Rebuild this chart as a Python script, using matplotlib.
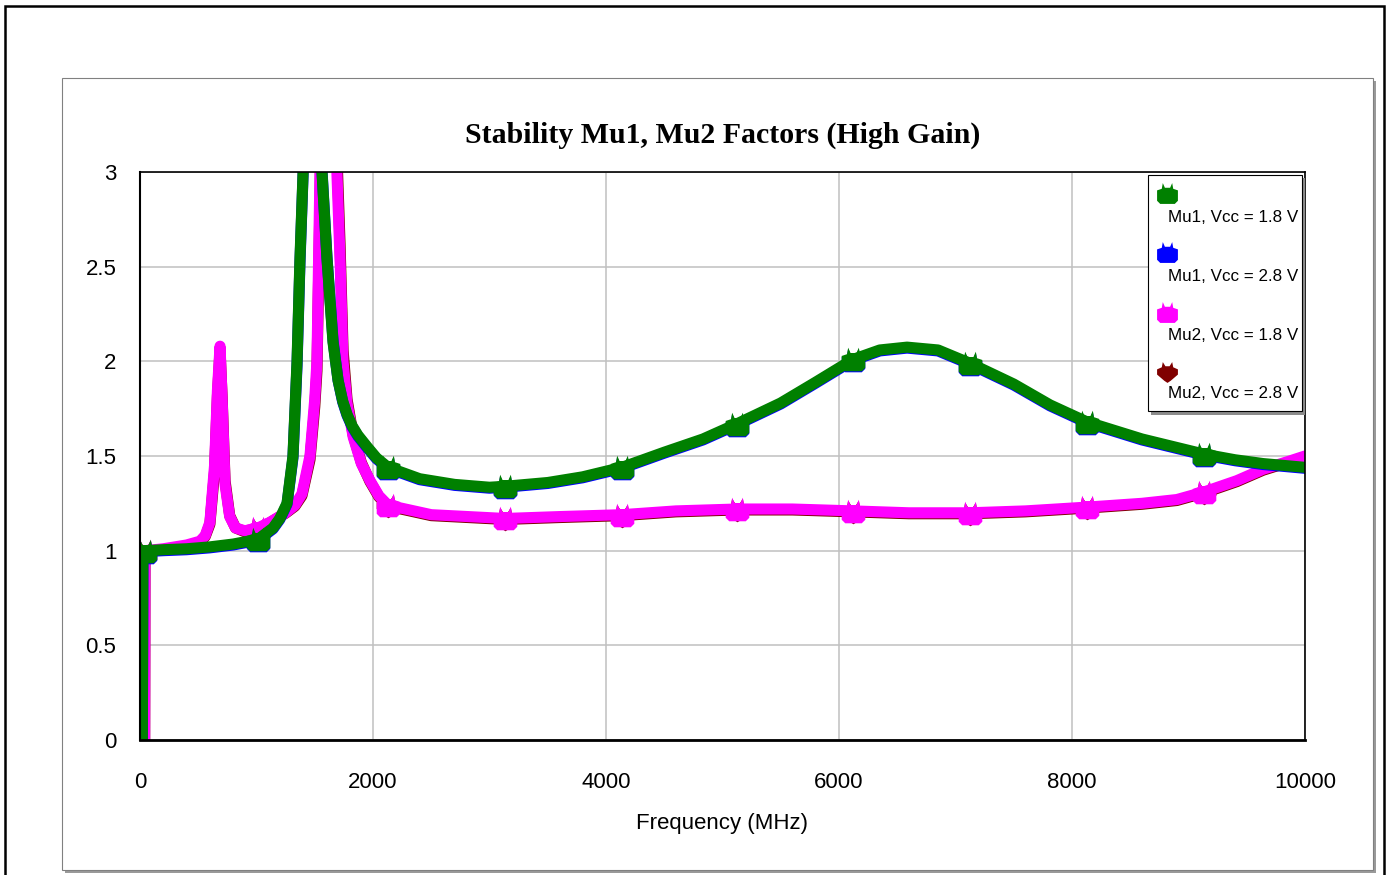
import matplotlib
matplotlib.use('Agg')
import matplotlib.pyplot as plt
from matplotlib import font_manager
from matplotlib.path import Path
from matplotlib.patches import Rectangle
from matplotlib.lines import Line2D

# ---------------- data ----------------
title = "Stability Mu1, Mu2 Factors (High Gain)"
xlabel = "Frequency (MHz)"
series_labels = ["Mu1, Vcc = 1.8 V", "Mu1, Vcc = 2.8 V", "Mu2, Vcc = 1.8 V", "Mu2, Vcc = 2.8 V"]
x_ticks = [0, 2000, 4000, 6000, 8000, 10000]
y_ticks = [0, 0.5, 1, 1.5, 2, 2.5, 3]
y_tick_labels = ["0", "0.5", "1", "1.5", "2", "2.5", "3"]

freq_mu1 = [20, 25, 43, 200, 400, 600, 800, 1013, 1142, 1200, 1262, 1313, 1348, 1373, 1400,
            1440, 1480, 1520, 1562, 1605, 1657, 1700, 1740, 1777, 1820, 1870, 1948, 2030, 2129,
            2400, 2700, 3000, 3133, 3500, 3800, 4137, 4500, 4833, 5124, 5500, 5800, 6120, 6350,
            6584, 6850, 7124, 7500, 7811, 8129, 8600, 9133, 9400, 9640, 10000]
mu1_18 = [0.0, 1.0, 1.00, 1.005, 1.01, 1.02, 1.035, 1.06, 1.12, 1.17, 1.25, 1.5, 2.0, 2.54, 3.0,
          4.5, 6.0, 4.5, 3.0, 2.54, 2.1, 1.9, 1.79, 1.72, 1.66, 1.61, 1.55, 1.49, 1.44,
          1.38, 1.35, 1.335, 1.34, 1.36, 1.39, 1.44, 1.52, 1.59, 1.67, 1.78, 1.89, 2.01, 2.06,
          2.075, 2.06, 1.99, 1.88, 1.77, 1.68, 1.59, 1.51, 1.48, 1.46, 1.44]
mu1_28 = [0.0, 1.0, 0.995, 1.0, 1.005, 1.015, 1.03, 1.055, 1.115, 1.165, 1.245, 1.49, 1.98, 2.52, 2.99,
          4.4, 5.9, 4.5, 3.01, 2.55, 2.11, 1.9, 1.785, 1.715, 1.655, 1.605, 1.545, 1.485, 1.435,
          1.375, 1.345, 1.33, 1.335, 1.355, 1.385, 1.435, 1.515, 1.585, 1.665, 1.775, 1.885, 2.005, 2.055,
          2.07, 2.055, 1.985, 1.875, 1.765, 1.675, 1.585, 1.505, 1.475, 1.455, 1.435]

freq_mu2 = [40, 43, 200, 400, 515, 560, 600, 640, 665, 687, 705, 730, 770, 820, 900, 1013,
            1116, 1250, 1330, 1390, 1459, 1500, 1519, 1545, 1580, 1610, 1650, 1690, 1717, 1743,
            1777, 1830, 1900, 1974, 2050, 2129, 2500, 3133, 3600, 4137, 4600, 5124, 5600, 6120,
            6600, 7124, 7600, 8129, 8600, 8900, 9133, 9416, 9640, 9850, 10000]
mu2_18 = [0.0, 1.0, 1.01, 1.03, 1.05, 1.08, 1.15, 1.45, 1.85, 2.08, 1.80, 1.35, 1.18, 1.12, 1.105, 1.12,
          1.15, 1.2, 1.24, 1.3, 1.5, 1.8, 2.0, 3.0, 4.5, 6.0, 4.5, 3.0, 2.54, 2.0,
          1.78, 1.6, 1.46, 1.37, 1.29, 1.24, 1.19, 1.17, 1.18, 1.19, 1.21, 1.22, 1.22, 1.21,
          1.20, 1.20, 1.21, 1.23, 1.25, 1.27, 1.31, 1.37, 1.43, 1.47, 1.50]
mu2_28 = [0.0, 0.995, 1.005, 1.025, 1.045, 1.075, 1.14, 1.42, 1.82, 2.06, 1.81, 1.37, 1.185, 1.12, 1.10, 1.115,
          1.148, 1.198, 1.235, 1.29, 1.48, 1.76, 1.95, 2.85, 4.3, 6.0, 4.7, 3.1, 2.62, 2.06,
          1.80, 1.61, 1.465, 1.365, 1.285, 1.235, 1.185, 1.165, 1.175, 1.185, 1.205, 1.215, 1.215, 1.205,
          1.195, 1.195, 1.205, 1.225, 1.245, 1.265, 1.305, 1.365, 1.425, 1.465, 1.495]

marker_freqs = [43, 1013, 2129, 3133, 4137, 5124, 6120, 7124, 8129, 9133]

colors = ["#008000", "#0000ff", "#ff00ff", "#800000"]

# ---------------- marker shapes ----------------
crown = Path([(-1, -0.7), (-1, 0.3), (-0.55, 0.45), (-0.45, 1.0), (-0.25, 0.55), (0.25, 0.55),
              (0.45, 1.0), (0.55, 0.45), (1, 0.3), (1, -0.7), (0.7, -1), (-0.7, -1), (-1, -0.7)])
shield = Path([(-1, 0.3), (-0.55, 0.5), (-0.45, 1.0), (-0.2, 0.6), (0.2, 0.6), (0.45, 1.0),
               (0.55, 0.5), (1, 0.3), (1, -0.2), (0.3, -0.8), (0, -1), (-0.3, -0.8), (-1, -0.2), (-1, 0.3)])
markers = [crown, crown, crown, shield]

# ---------------- fonts: narrow sans if available ----------------
available = {f.name for f in font_manager.fontManager.ttflist}
NARROW_CANDIDATES = [('Liberation Sans Narrow', 1.0), ('Arial Narrow', 1.0),
                     ('DejaVu Sans Condensed', 0.85), ('Liberation Sans', 0.89)]
narrow_font, size_scale = 'DejaVu Sans', 0.78
for name, sc in NARROW_CANDIDATES:
    if name in available:
        narrow_font, size_scale = name, sc
        break
NARROW = [narrow_font, 'DejaVu Sans']
TICK_FS = 18 * size_scale
LEG_FS = 13.8 * size_scale

# ---------------- figure ----------------
W, H = 1391, 875
fig = plt.figure(figsize=(W / 100, H / 100), dpi=100)
fig.patch.set_facecolor('white')


def fx(px):
    return px / W


def fy(py):
    return 1 - py / H


# outer border and inner frame with shadow
fig.add_artist(Rectangle((fx(5), fy(890)), (1384 - 5) / W, (890 - 6) / H, transform=fig.transFigure,
                         fill=False, ec='black', lw=1.8, zorder=-10))
fig.add_artist(Rectangle((fx(65), fy(873)), (1376 - 65) / W, (873 - 81) / H, transform=fig.transFigure,
                         fc='#9a9a9a', ec='none', zorder=-9))
fig.add_artist(Rectangle((fx(62), fy(870)), (1373 - 62) / W, (870 - 78) / H, transform=fig.transFigure,
                         fc='white', ec='#808080', lw=0.8, zorder=-8))

ax = fig.add_axes([fx(140), fy(740), (1305 - 140) / W, (740 - 172) / H])
ax.set_zorder(1)

mk1 = [freq_mu1.index(f) for f in marker_freqs]
mk2 = [freq_mu2.index(f) for f in marker_freqs]

plot_order = [
    (freq_mu2, mu2_28, 3, mk2),
    (freq_mu2, mu2_18, 2, mk2),
    (freq_mu1, mu1_28, 1, mk1),
    (freq_mu1, mu1_18, 0, mk1),
]
for fr, vals, i, mk in plot_order:
    ax.plot(fr, vals, color=colors[i], lw=8.0, solid_joinstyle='round', solid_capstyle='round',
            marker=markers[i], markersize=17, markevery=mk, markeredgewidth=0,
            label=series_labels[i])

ax.set_xlim(0, 10000)
ax.set_ylim(0, 3)
ax.set_xticks(x_ticks)
ax.set_xticklabels([str(t) for t in x_ticks])
ax.set_yticks(y_ticks)
ax.set_yticklabels(y_tick_labels)
ax.grid(True, color='#c0c0c0', lw=1.1)
ax.set_axisbelow(True)
ax.tick_params(length=0, labelsize=TICK_FS)
ax.tick_params(axis='x', pad=23)
ax.tick_params(axis='y', pad=17)
for lab in ax.get_xticklabels() + ax.get_yticklabels():
    lab.set_family(NARROW)

ax.spines['left'].set_linewidth(1.5)
ax.spines['bottom'].set_linewidth(2.0)
ax.spines['top'].set_linewidth(1.2)
ax.spines['right'].set_linewidth(1.2)
for s in ax.spines.values():
    s.set_color('black')

ax.set_xlabel(xlabel, fontsize=TICK_FS, family=NARROW)
ax.xaxis.set_label_coords(0.5, (740 - 823) / 568)
ax.xaxis.label.set_va('center')

ax.set_title(title, fontsize=21.5, fontweight='bold', family=['Liberation Serif', 'DejaVu Serif'],
             y=(740 - 135) / 568, pad=0, va='center')

# ---------------- legend (manual, marker above label) ----------------
fig.add_artist(Rectangle((fx(1151), fy(415)), (1305 - 1151) / W, (415 - 178) / H, transform=fig.transFigure,
                         fc='#8c8c8c', ec='none', zorder=10))
fig.add_artist(Rectangle((fx(1148), fy(411)), (1302 - 1148) / W, (411 - 175) / H, transform=fig.transFigure,
                         fc='white', ec='black', lw=0.8, zorder=11))
marker_y = [193, 252, 312, 372]
text_y = [218, 277, 336, 394]
for i in range(4):
    fig.add_artist(Line2D([fx(1167)], [fy(marker_y[i])], transform=fig.transFigure, ls='none',
                          marker=markers[i], markersize=15, color=colors[i], markeredgewidth=0, zorder=12))
    fig.text(fx(1298), fy(text_y[i]), series_labels[i], ha='right', va='center', fontsize=LEG_FS,
             family=NARROW, zorder=12)

fig.savefig('out.png', dpi=100)
